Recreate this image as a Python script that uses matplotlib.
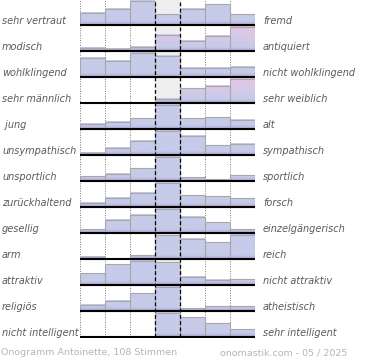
import numpy as np
import matplotlib.pyplot as plt
from matplotlib.colors import to_rgb
from matplotlib.patches import Rectangle

left_labels = ['sehr vertraut', 'modisch', 'wohlklingend', 'sehr männlich', ' jung',
               'unsympathisch', 'unsportlich', 'zurückhaltend', 'gesellig', 'arm',
               'attraktiv', 'religiös', 'nicht intelligent']
right_labels = ['fremd', 'antiquiert', 'nicht wohlklingend', 'sehr weiblich', 'alt',
                'sympathisch', 'sportlich', 'forsch', 'einzelgängerisch', 'reich',
                'nicht attraktiv', 'atheistisch', 'sehr intelligent']

# share of votes per step, scaled so the largest step of each row is 100
vertraut = [53, 66, 100, 45, 66, 86, 45]
modisch = [13, 9, 19, 67, 41, 63, 100]
wohlklingend = [79, 67, 100, 89, 37, 37, 42]
maennlich = [0, 0, 0, 17, 61, 73, 100]
jung = [23, 31, 45, 100, 45, 49, 37]
unsympathisch = [9, 30, 60, 100, 79, 40, 48]
unsportlich = [20, 29, 53, 100, 16, 8, 24]
zurueckhaltend = [19, 39, 60, 100, 48, 44, 36]
gesellig = [15, 55, 75, 100, 68, 44, 15]
arm = [10, 0, 15, 97, 84, 69, 100]
attraktiv = [49, 85, 100, 93, 33, 21, 24]
religioes = [25, 41, 72, 100, 12, 20, 20]
intelligent = [0, 0, 2, 100, 80, 56, 32]

rows = [vertraut, modisch, wohlklingend, maennlich, jung, unsympathisch, unsportlich,
        zurueckhaltend, gesellig, arm, attraktiv, religioes, intelligent]
pink_rows = [1, 3]

title_left = 'Onogramm Antoinette, 108 Stimmen'
title_right = 'onomastik.com - 05 / 2025'

W, H = 370, 360
fig = plt.figure(figsize=(3.7, 3.6), dpi=100)
ax = fig.add_axes([80 / W, (H - 337.5) / H, 175 / W, 338 / H])

blue = np.array(to_rgb('#c6cbe9'))
pink = np.array(to_rgb('#e4c7e6'))
purple = np.array(to_rgb('#a89ccf'))
full = 0.94


def bar_colors(h, use_pink, n=40):
    t = np.linspace(0, h, n)
    c = np.tile(blue, (n, 1))
    if use_pink:
        k = np.clip((t - 0.1) / (full - 0.1), 0, 1)[:, None]
        c = blue * (1 - k) + pink * k
    w = (np.clip(1 - t / 0.16, 0, 1) ** 1.5)[:, None]
    c = c * (1 - w) + purple * w
    return c[:, None, :]


ax.axvspan(3, 4, color='#eeeeee', zorder=0)
ax.vlines([0, 1, 2, 5, 6, 7], 0, 13, colors='#777777', linestyles=(0, (1, 1.5)),
          lw=0.7, zorder=1)

for i, vals in enumerate(rows):
    base = 12 - i
    for j, v in enumerate(vals):
        h = v / 100 * full
        if h <= 0:
            continue
        ax.imshow(bar_colors(h, i in pink_rows), extent=(j, j + 1, base, base + h),
                  origin='lower', aspect='auto', interpolation='bilinear', zorder=2)
        ax.add_patch(Rectangle((j, base), 1, h, fill=False, edgecolor='#a8a8a8',
                               lw=0.8, zorder=3))

    y = 1 - (337.5 - 26 * (12 - i) - 5) / H
    fig.text(2 / W, y, left_labels[i], fontsize=7, style='italic', color='#5a5a5a',
             va='center')
    fig.text(263 / W, y, right_labels[i], fontsize=7, style='italic', color='#5a5a5a',
             va='center')

ax.hlines(np.arange(13), 0, 7, colors='black', lw=1.5, zorder=5)
ax.vlines([3, 4], 0, 13, colors='black', linestyles=(0, (3, 2)), lw=0.9, zorder=6)

ax.set_xlim(0, 7)
ax.set_ylim(-0.02, 13)
ax.axis('off')

fig.text(1 / W, 1 - 352.5 / H, title_left, fontsize=6.8, color='#b5b5b5', va='center')
fig.text(347 / W, 1 - 352.5 / H, title_right, fontsize=6.8, color='#b5b5b5',
         va='center', ha='right')

fig.savefig('out.png', dpi=100)
